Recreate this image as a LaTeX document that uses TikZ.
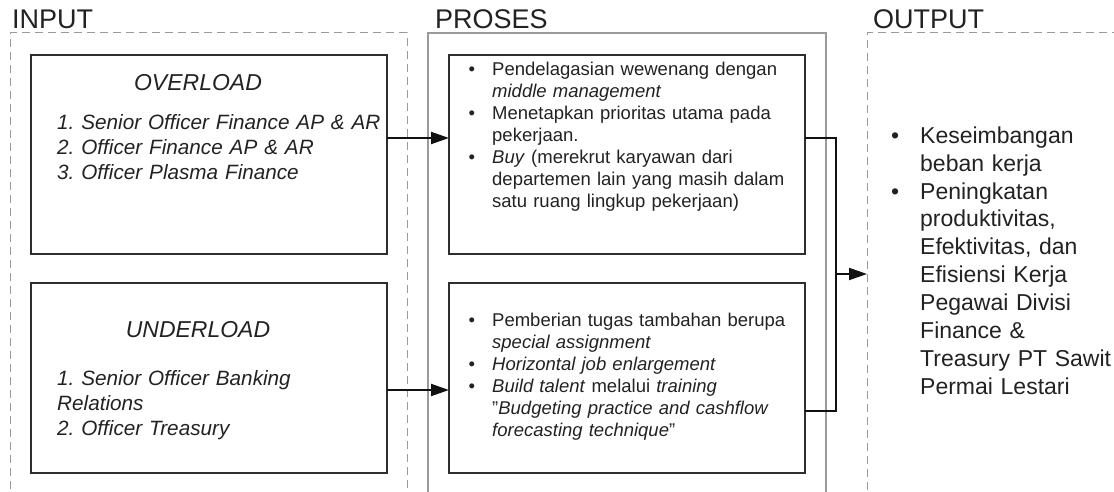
\documentclass[tikz,border=0pt]{standalone}
\usepackage{fontspec}
\setmainfont{Liberation Sans}
\usetikzlibrary{arrows.meta}
\frenchspacing
\definecolor{txt}{HTML}{222222}
\definecolor{boxc}{HTML}{2E2E2E}
\definecolor{dashc}{HTML}{9A9A9A}
\definecolor{conc}{HTML}{111111}
\newcommand\pbul{\leavevmode\llap{\makebox[23.5pt][l]{•}}}
\newcommand\obul{\leavevmode\llap{\makebox[29pt][l]{•}}}
\newcommand\dq{\char34 }
\begin{document}
\begin{tikzpicture}[x=1pt,y=-1pt,
  container/.style={minimum width=#1, minimum height=487pt, inner sep=0pt, outer sep=0pt},
  dashbox/.style={draw=dashc, line width=1pt, dash pattern=on 8pt off 5pt},
  procbox/.style={draw=dashc, line width=1.2pt},
  itembox/.style={draw=boxc, line width=2pt, minimum width=356pt, inner sep=0pt, outer sep=0pt},
  header/.style={anchor=base west, inner sep=0pt, text=txt, font=\fontsize{27}{30}\selectfont},
  ptext/.style={anchor=base west, inner sep=0pt, text=txt, text width=310pt, align=left, font=\fontsize{18.5}{22}\selectfont},
  ltext/.style={anchor=base west, inner sep=0pt, text=txt, text width=330pt, align=left, font=\fontsize{20.7}{24.8}\selectfont\itshape},
  ttext/.style={anchor=base, inner sep=0pt, text=txt, font=\fontsize{23}{27}\selectfont\itshape},
  otext/.style={anchor=base west, inner sep=0pt, text=txt, text width=200pt, align=left, font=\fontsize{23}{27.9}\selectfont},
  conn/.style={draw=conc, line width=2pt},
  arr/.style={conn, -{Triangle[length=18pt,width=12pt]}}]
\useasboundingbox (0,0) rectangle (1114,492);
% containers
\node[container=397pt, dashbox] (inc) at (208.5,276.5) {};
\node[container=398pt, procbox] (prc) at (627,276.5) {};
\node[container=273pt, dashbox] (outc) at (1003.5,276.5) {};
% headers
\node[header] (hin) at (12,29) {INPUT};
\node[header] (hpr) at (435,29) {PROSES};
\node[header] (hout) at (873,29) {OUTPUT};
% input boxes
\node[itembox, minimum height=199pt] (ov) at (209,154.5) {};
\node[itembox, minimum height=190pt] (un) at (209,378) {};
\node[ttext] (ovt) at (198,91) {OVERLOAD};
\node[ltext] (ovl) at (57,130) {1. Senior Officer Finance AP \& AR\\2. Officer Finance AP \& AR\\3. Officer Plasma Finance};
\node[ttext] (unt) at (198,337) {UNDERLOAD};
\node[ltext] (unl) at (57,385.5) {1. Senior Officer Banking\\Relations\\2. Officer Treasury};
% process boxes
\node[itembox, minimum height=199pt] (p1) at (627,154.5) {};
\node[itembox, minimum height=190pt] (p2) at (627,378) {};
\node[ptext] (p1t) at (492,76) {\pbul Pendelagasian wewenang dengan\\\textit{middle management}\\\pbul Menetapkan prioritas utama pada\\pekerjaan.\\\pbul\textit{Buy} (merekrut karyawan dari\\departemen lain yang masih dalam\\satu ruang lingkup pekerjaan)};
\node[ptext] (p2t) at (492,326) {\pbul Pemberian tugas tambahan berupa\\\textit{special assignment}\\\pbul\textit{Horizontal job enlargement}\\\pbul\textit{Build talent} melalui \textit{training}\\\dq\textit{Budgeting practice and cashflow}\\\textit{forecasting technique}\dq};
% output text
\node[otext] (ot) at (920,143.3) {\obul Keseimbangan\\beban kerja\\\obul Peningkatan\\produktivitas,\\Efektivitas, dan\\Efisiensi Kerja\\Pegawai Divisi\\Finance \&\\Treasury PT Sawit\\Permai Lestari};
% connectors
\draw[arr] ([yshift=16.5pt]ov.east) -- ([yshift=16.5pt]p1.west);
\draw[arr] ([yshift=-12pt]un.east) -- ([yshift=-12pt]p2.west);
\coordinate (j) at (836,274);
\draw[conn] ([yshift=16.5pt]p1.east) -| (j) |- ([yshift=-33pt]p2.east);
\draw[arr] (j) -- (outc.west |- j);
\end{tikzpicture}
\end{document}
